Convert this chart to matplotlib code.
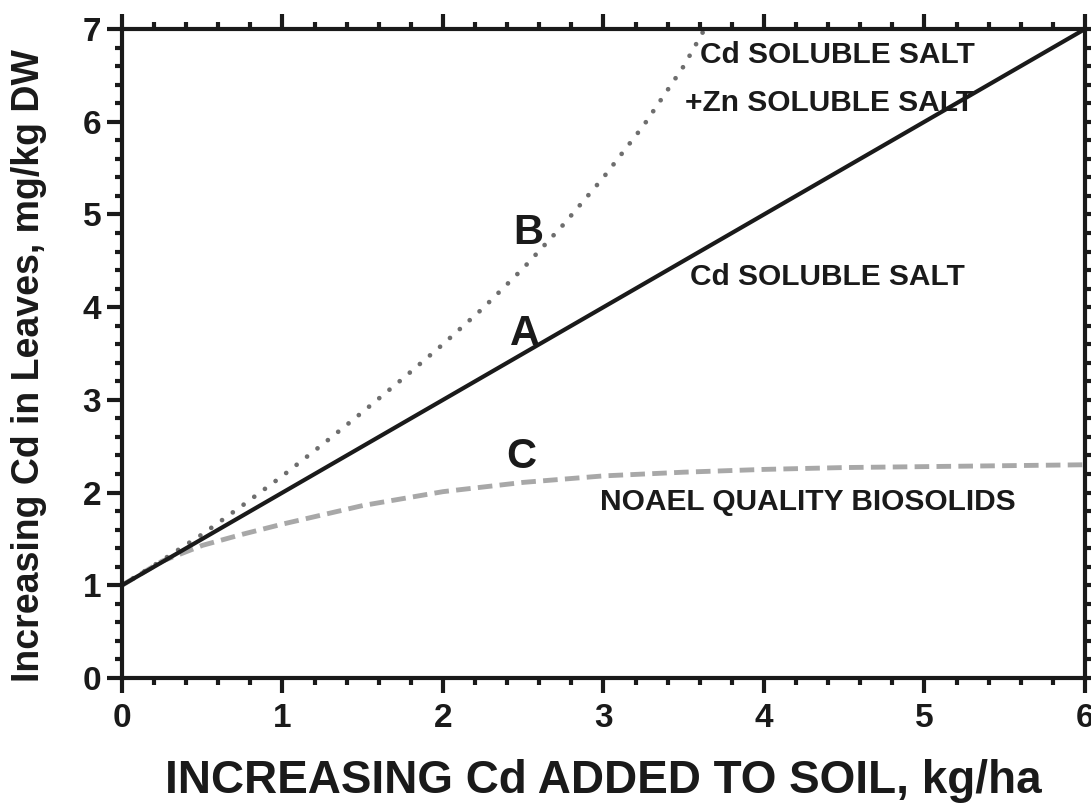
import matplotlib.pyplot as plt
from matplotlib.ticker import MultipleLocator

plt.rcParams['font.family'] = ['Liberation Sans', 'DejaVu Sans']
plt.rcParams['font.weight'] = 'bold'

# --- Data ---
# A: Cd soluble salt (straight line)
a_x = [0, 6]
a_y = [1.0, 7.0]

# B: Cd soluble salt + Zn soluble salt (dotted)
b_x = [0, 0.25, 0.5, 0.75, 1.0, 1.25, 1.5, 1.75, 2.0, 2.25, 2.5, 2.75, 3.0, 3.25, 3.5, 3.63]
b_y = [1.0, 1.27, 1.55, 1.86, 2.18, 2.52, 2.87, 3.23, 3.60, 3.99, 4.42, 4.89, 5.40, 5.96, 6.60, 7.0]

# C: NOAEL quality biosolids (dashed)
c_x = [0, 0.25, 0.5, 0.75, 1.0, 1.5, 2.0, 2.5, 3.0, 3.5, 4.0, 4.5, 5.0, 5.5, 6.0]
c_y = [1.0, 1.26, 1.43, 1.55, 1.66, 1.86, 2.01, 2.11, 2.18, 2.22, 2.25, 2.27, 2.28, 2.29, 2.30]

fig = plt.figure(figsize=(10.91, 8.06), dpi=100)
ax = fig.add_axes([0.1118, 0.1588, 0.8827, 0.8052])

ax.plot(c_x, c_y, color='#a8a8a8', lw=3.5, linestyle=(0, (3.0, 1.5)))
ax.plot(b_x, b_y, color='#6e6e6e', lw=3.4, linestyle=(0, (0.01, 2.8)), dash_capstyle='round')
ax.plot(a_x, a_y, color='#1a1a1a', lw=3.0)

ax.set_xlim(0, 6)
ax.set_ylim(0, 7)
ax.xaxis.set_major_locator(MultipleLocator(1))
ax.xaxis.set_minor_locator(MultipleLocator(0.2))
ax.yaxis.set_major_locator(MultipleLocator(1))
ax.yaxis.set_minor_locator(MultipleLocator(0.2))

for s in ax.spines.values():
    s.set_linewidth(3.0)
    s.set_color('#1a1a1a')

ax.tick_params(which='both', direction='out', top=True, right=True,
               width=3.0, color='#1a1a1a', labelsize=24, labelcolor='#1a1a1a')
ax.tick_params(axis='x', pad=7)
ax.tick_params(axis='y', pad=4)
ax.tick_params(which='major', length=11)
ax.tick_params(which='minor', length=5)

ax.set_xlabel('INCREASING Cd ADDED TO SOIL, kg/ha', fontsize=33, fontweight='bold',
              labelpad=18, color='#1a1a1a')
ax.set_ylabel('Increasing Cd in Leaves, mg/kg DW', fontsize=27, fontweight='bold',
              color='#1a1a1a')
ax.yaxis.set_label_coords(-0.078, 0.482)

txt = dict(fontsize=21.5, fontweight='bold', color='#1a1a1a', va='center', ha='left')
ax.text(3.60, 6.72, 'Cd SOLUBLE SALT', **txt)
ax.text(3.51, 6.20, '+Zn SOLUBLE SALT', **txt)
ax.text(3.54, 4.33, 'Cd SOLUBLE SALT', **txt)
ax.text(2.98, 1.90, 'NOAEL QUALITY BIOSOLIDS', **txt)

big = dict(fontsize=30, fontweight='bold', color='#1a1a1a', va='center', ha='center')
ax.text(2.53, 4.80, 'B', **big)
ax.text(2.51, 3.71, 'A', **big)
ax.text(2.49, 2.38, 'C', **big)

plt.savefig('out.png', dpi=100)
